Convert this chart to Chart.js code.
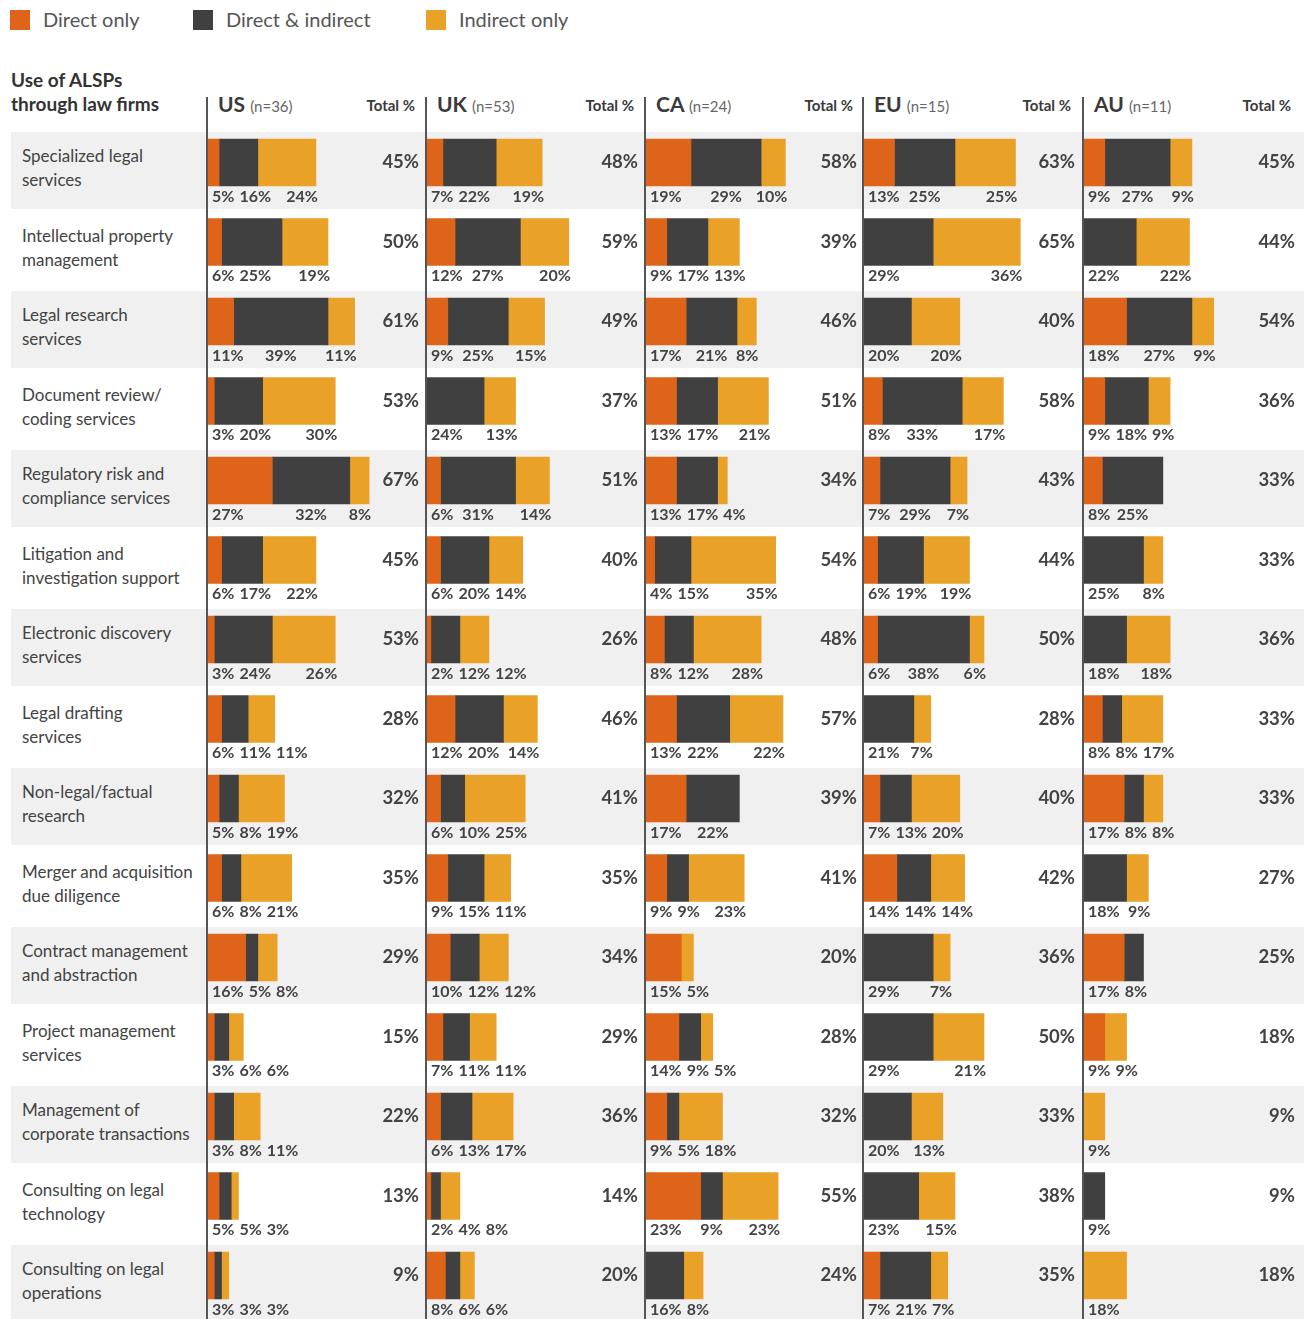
<!DOCTYPE html>
<html><head><meta charset="utf-8">
<script src="https://cdn.jsdelivr.net/npm/chart.js@4.4.1/dist/chart.umd.min.js"></script>
<style>
html,body{margin:0;padding:0;background:#fff;}
#root{position:relative;width:1312px;height:1319px;overflow:hidden;font-family:Lato,'Noto Sans',sans-serif;color:#454545;}
.abs{position:absolute;white-space:nowrap;}
canvas{position:absolute;}
</style></head>
<body><div id="root"></div>
<script>
// ---------------- DATA ----------------
const seriesNames = ['Direct only', 'Direct & indirect', 'Indirect only'];
const regions = ['US', 'UK', 'CA', 'EU', 'AU'];
const sampleSizes = [36, 53, 24, 15, 11];
const categories = [
  ['Specialized legal', 'services'],
  ['Intellectual property', 'management'],
  ['Legal research', 'services'],
  ['Document review/', 'coding services'],
  ['Regulatory risk and', 'compliance services'],
  ['Litigation and', 'investigation support'],
  ['Electronic discovery', 'services'],
  ['Legal drafting', 'services'],
  ['Non-legal/factual', 'research'],
  ['Merger and acquisition', 'due diligence'],
  ['Contract management', 'and abstraction'],
  ['Project management', 'services'],
  ['Management of', 'corporate transactions'],
  ['Consulting on legal', 'technology'],
  ['Consulting on legal', 'operations']
];
const usDirect   = [5, 6, 11, 3, 27, 6, 3, 6, 5, 6, 16, 3, 3, 5, 3];
const usBoth     = [16, 25, 39, 20, 32, 17, 24, 11, 8, 8, 5, 6, 8, 5, 3];
const usIndirect = [24, 19, 11, 30, 8, 22, 26, 11, 19, 21, 8, 6, 11, 3, 3];
const usTotal    = [45, 50, 61, 53, 67, 45, 53, 28, 32, 35, 29, 15, 22, 13, 9];

const ukDirect   = [7, 12, 9, 0, 6, 6, 2, 12, 6, 9, 10, 7, 6, 2, 8];
const ukBoth     = [22, 27, 25, 24, 31, 20, 12, 20, 10, 15, 12, 11, 13, 4, 6];
const ukIndirect = [19, 20, 15, 13, 14, 14, 12, 14, 25, 11, 12, 11, 17, 8, 6];
const ukTotal    = [48, 59, 49, 37, 51, 40, 26, 46, 41, 35, 34, 29, 36, 14, 20];

const caDirect   = [19, 9, 17, 13, 13, 4, 8, 13, 17, 9, 15, 14, 9, 23, 0];
const caBoth     = [29, 17, 21, 17, 17, 15, 12, 22, 22, 9, 0, 9, 5, 9, 16];
const caIndirect = [10, 13, 8, 21, 4, 35, 28, 22, 0, 23, 5, 5, 18, 23, 8];
const caTotal    = [58, 39, 46, 51, 34, 54, 48, 57, 39, 41, 20, 28, 32, 55, 24];

const euDirect   = [13, 0, 0, 8, 7, 6, 6, 0, 7, 14, 0, 0, 0, 0, 7];
const euBoth     = [25, 29, 20, 33, 29, 19, 38, 21, 13, 14, 29, 29, 20, 23, 21];
const euIndirect = [25, 36, 20, 17, 7, 19, 6, 7, 20, 14, 7, 21, 13, 15, 7];
const euTotal    = [63, 65, 40, 58, 43, 44, 50, 28, 40, 42, 36, 50, 33, 38, 35];

const auDirect   = [9, 0, 18, 9, 8, 0, 0, 8, 17, 0, 17, 9, 0, 0, 0];
const auBoth     = [27, 22, 27, 18, 25, 25, 18, 8, 8, 18, 8, 0, 0, 9, 0];
const auIndirect = [9, 22, 9, 9, 0, 8, 18, 17, 8, 9, 0, 9, 9, 0, 18];
const auTotal    = [45, 44, 54, 36, 33, 33, 36, 33, 33, 27, 25, 18, 9, 9, 18];

const panelSeries = [
  [usDirect, usBoth, usIndirect, usTotal],
  [ukDirect, ukBoth, ukIndirect, ukTotal],
  [caDirect, caBoth, caIndirect, caTotal],
  [euDirect, euBoth, euIndirect, euTotal],
  [auDirect, auBoth, auIndirect, auTotal]
];

// ---------------- STYLE / LAYOUT ----------------
const COLORS = ['#DD6419', '#404040', '#E9A127'];
const FONT = "Lato, 'Noto Sans', sans-serif";
const TEXT = '#434343';
const PANEL_X = [207, 426, 645, 863, 1083];
const PANEL_W = [219, 219, 218, 220, 221];
const PX_PER_PCT = 2.42;
const ROW_TOP = 132, ROW_H = 79.5, BAND_H = 77;
const CANVAS_TOP = 113, CANVAS_H = 1206;
const PAD_TOP = 9.75, PAD_BOTTOM = CANVAS_H - PAD_TOP - ROW_H * categories.length;

const root = document.getElementById('root');
function el(tag, css, html) {
  const e = document.createElement(tag);
  e.className = 'abs';
  Object.assign(e.style, css);
  if (html !== undefined) e.innerHTML = html;
  root.appendChild(e);
  return e;
}

// row bands and row labels
categories.forEach((c, i) => {
  if (i % 2 === 0) el('div', {left: '11px', top: (ROW_TOP + i * ROW_H) + 'px', width: '1293px', height: BAND_H + 'px', background: '#f0f0f0'});
  el('div', {left: '22px', top: (ROW_TOP + i * ROW_H + 12) + 'px', fontSize: '17px', lineHeight: '24px', color: TEXT}, c.join('<br>'));
});

// legend
const legX = [10, 193, 426];
seriesNames.forEach((n, j) => {
  el('div', {left: legX[j] + 'px', top: '10px', width: '20px', height: '20px', background: COLORS[j]});
  el('div', {left: (legX[j] + 33) + 'px', top: '6px', fontSize: '20px', lineHeight: '26px', color: '#555'}, n);
});

// title
el('div', {left: '11px', top: '68px', fontSize: '19px', lineHeight: '24px', fontWeight: '700', color: '#333'}, 'Use of ALSPs<br>through law firms');

// panel headers
regions.forEach((r, p) => {
  el('div', {left: (PANEL_X[p] + 11) + 'px', top: '91px', fontSize: '21px', lineHeight: '26px', fontWeight: '700', color: '#3a3a3a'},
     r + ' <span style="font-size:15px;font-weight:400;color:#666">(n=' + sampleSizes[p] + ')</span>');
  el('div', {left: (PANEL_X[p] + 120) + 'px', width: '88px', textAlign: 'right', top: '95px', fontSize: '15px', lineHeight: '20px', fontWeight: '700', color: '#3a3a3a'}, 'Total %');
});

// ---------------- LABEL PLUGIN ----------------
const labelPlugin = {
  id: 'segLabels',
  afterDatasetsDraw(chart) {
    const ctx = chart.ctx;
    const totals = chart.options.plugins.segLabels.totals;
    const metas = [0, 1, 2].map(j => chart.getDatasetMeta(j));
    const barStart = chart.scales.x.getPixelForValue(0);
    ctx.save();
    ctx.fillStyle = TEXT;
    ctx.textBaseline = 'middle';
    categories.forEach((c, i) => {
      const bars = metas.map(m => m.data[i]);
      const vals = [0, 1, 2].map(j => chart.data.datasets[j].data[i]);
      const ref = bars.find((b, j) => vals[j]) || bars[0];
      const y = chart.scales.y.getPixelForValue(i);
      const bottom = y + 47 / 2;
      ctx.font = '700 16px ' + FONT;
      const labs = [];
      vals.forEach((v, j) => {
        if (!v) return;
        const b = bars[j];
        const s = Math.min(b.base, b.x), e = Math.max(b.base, b.x);
        const t = v + '%';
        const w = ctx.measureText(t).width;
        let left;
        if (labs.length === 0) left = barStart + 5;
        else if (j === 1) left = (s + e) / 2 - w / 2;
        else left = e + 2 - w;
        labs.push({t, w, left});
      });
      let prevRight = -1e9;
      labs.forEach(l => {
        l.left = Math.max(l.left, prevRight + 5);
        prevRight = l.left + l.w;
        ctx.textAlign = 'left';
        ctx.fillText(l.t, l.left, bottom + 10.5);
      });
      ctx.font = '700 18.5px ' + FONT;
      ctx.textAlign = 'right';
      ctx.fillText(totals[i] + '%', chart.chartArea.left + 212, y);
    });
    ctx.restore();
  }
};

// ---------------- CHARTS ----------------
regions.forEach((r, p) => {
  const cv = document.createElement('canvas');
  cv.width = PANEL_W[p];
  cv.height = CANVAS_H;
  cv.style.left = PANEL_X[p] + 'px';
  cv.style.top = CANVAS_TOP + 'px';
  cv.style.width = PANEL_W[p] + 'px';
  cv.style.height = CANVAS_H + 'px';
  root.appendChild(cv);
  const s = panelSeries[p];
  new Chart(cv, {
    type: 'bar',
    data: {
      labels: categories.map(c => c.join(' ')),
      datasets: [0, 1, 2].map(j => ({
        label: seriesNames[j], data: s[j].map(v => v === 0 ? null : v), backgroundColor: COLORS[j],
        borderWidth: 0, barThickness: 47, borderSkipped: false
      }))
    },
    options: {
      indexAxis: 'y', responsive: false, animation: false, events: [],
      devicePixelRatio: 1,
      layout: {padding: {top: PAD_TOP, bottom: PAD_BOTTOM, left: 0, right: 0}},
      scales: {
        x: {stacked: true, min: 0, max: PANEL_W[p] / PX_PER_PCT, display: false},
        y: {stacked: true, display: false}
      },
      plugins: {legend: {display: false}, tooltip: {enabled: false}, segLabels: {totals: s[3]}}
    },
    plugins: [labelPlugin]
  });
  // divider line on top
  el('div', {left: (PANEL_X[p] - 1) + 'px', top: '97px', width: '2px', height: '1222px', background: '#555', zIndex: 5});
});
</script>
</body></html>
